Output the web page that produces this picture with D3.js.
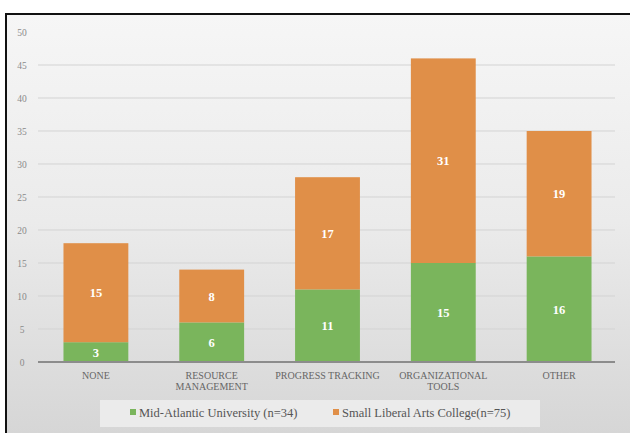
<!DOCTYPE html>
<html><head><meta charset="utf-8">
<script src="https://cdn.jsdelivr.net/npm/d3@7"></script>
<style>body{margin:0;background:#fff;overflow:hidden}svg{display:block}
text{font-family:"Liberation Serif","DejaVu Serif","Times New Roman",serif}</style>
</head><body><svg id="c" width="630" height="433"></svg>
<script>
const categories = [["NONE"],["RESOURCE","MANAGEMENT"],["PROGRESS TRACKING"],["ORGANIZATIONAL","TOOLS"],["OTHER"]];
const midAtlantic = [3, 6, 11, 15, 16];
const smallLiberal = [15, 8, 17, 31, 19];
const seriesNames = ["Mid-Atlantic University (n=34)", "Small Liberal Arts College(n=75)"];
const yTicks = [0,5,10,15,20,25,30,35,40,45,50];
const colors = ["#7ab55c", "#e08f48"];

const svg = d3.select("#c");
const defs = svg.append("defs");
const g = defs.append("linearGradient").attr("id","bg").attr("x1",0).attr("y1",0).attr("x2",0).attr("y2",1);
g.append("stop").attr("offset","0%").attr("stop-color","#f6f6f6");
g.append("stop").attr("offset","45%").attr("stop-color","#ebebeb");
g.append("stop").attr("offset","100%").attr("stop-color","#d2d2d2");

svg.append("rect").attr("x",6).attr("y",14).attr("width",660).attr("height",460).attr("fill","url(#bg)")
  .attr("stroke","#111").attr("stroke-width",2);

const x = d3.scaleBand().domain(d3.range(categories.length)).range([38, 617]).paddingInner(0.44).paddingOuter(0.22);
const y = d3.scaleLinear().domain([0,50]).range([362, 32]);

// gridlines
svg.append("g").selectAll("line").data(yTicks.filter(t=>t>0 && t<50)).join("line")
  .attr("x1",38).attr("x2",615).attr("y1",d=>y(d)).attr("y2",d=>y(d))
  .attr("stroke","#d3d3d3").attr("stroke-width",1);

// y labels
svg.append("g").selectAll("text").data(yTicks).join("text")
  .attr("x",22).attr("y",d=>y(d)+3.5).attr("text-anchor","middle")
  .attr("font-size",9.5).attr("fill","#8a8a8a").text(d=>d);

// stacks
const rows = categories.map((c,i)=>({i, a: midAtlantic[i], b: smallLiberal[i]}));
const stack = d3.stack().keys(["a","b"])(rows);
stack.forEach((s,k)=>{
  const gg = svg.append("g");
  gg.selectAll("rect").data(s).join("rect")
    .attr("x",d=>x(d.data.i)).attr("width",x.bandwidth())
    .attr("y",d=>y(d[1])).attr("height",d=>y(d[0])-y(d[1]))
    .attr("fill",colors[k]);
  gg.selectAll("text").data(s).join("text")
    .attr("x",d=>x(d.data.i)+x.bandwidth()/2).attr("y",d=>(y(d[0])+y(d[1]))/2+4.5)
    .attr("text-anchor","middle").attr("font-weight","bold")
    .attr("font-size",12.5).attr("fill","#fff").text(d=>d[1]-d[0]);
});

// baseline
svg.append("line").attr("x1",38).attr("x2",615).attr("y1",y(0)).attr("y2",y(0))
  .attr("stroke","#8c8c8c").attr("stroke-width",2);

// category labels
const cl = svg.append("g").selectAll("text").data(categories).join("text")
  .attr("text-anchor","middle").attr("font-size",10).attr("fill","#666");
cl.each(function(d,i){
  d3.select(this).selectAll("tspan").data(d).join("tspan")
    .attr("x",x(i)+x.bandwidth()/2).attr("y",(t,j)=>379+j*11).text(t=>t);
});

// legend
svg.append("rect").attr("x",100).attr("y",400).attr("width",440).attr("height",27).attr("fill","#ebebeb");
const lx = [130, 333];
seriesNames.forEach((n,k)=>{
  svg.append("rect").attr("x",lx[k]).attr("y",409).attr("width",6).attr("height",6).attr("fill",colors[k]);
  svg.append("text").attr("x",lx[k]+9).attr("y",416.5).attr("font-size",12.5)
    .attr("fill","#555").text(n);
});
</script></body></html>
